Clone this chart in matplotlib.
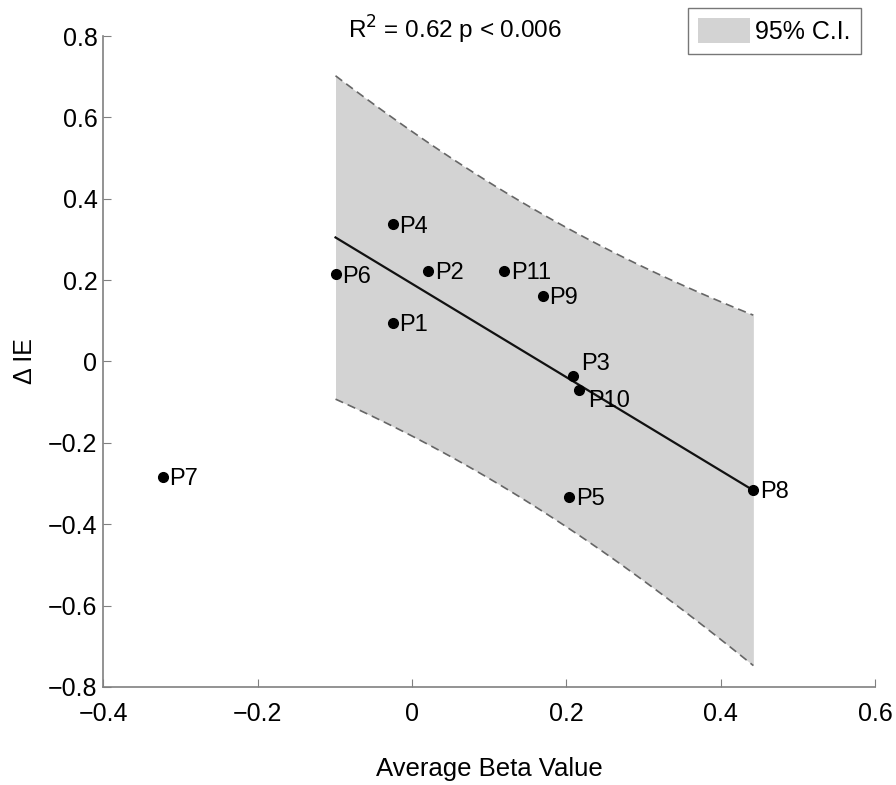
import numpy as np
import matplotlib
matplotlib.use('Agg')
import matplotlib.pyplot as plt
from matplotlib.patches import Patch

plt.rcParams['font.family'] = ['Liberation Sans', 'DejaVu Sans']

# data
labels = ['P1', 'P2', 'P3', 'P4', 'P5', 'P6', 'P7', 'P8', 'P9', 'P10', 'P11']
beta = [-0.025, 0.021, 0.208, -0.025, 0.203, -0.099, -0.323, 0.442, 0.169, 0.216, 0.119]
dIE = [0.094, 0.223, -0.035, 0.337, -0.333, 0.214, -0.283, -0.315, 0.161, -0.069, 0.222]
outliers = ['P7']  # left out of the fit
t_crit = 2.306  # t(0.975, df=8)

xticks = [-0.4, -0.2, 0, 0.2, 0.4, 0.6]
xticklabels = ['\u22120.4', '\u22120.2', '0', '0.2', '0.4', '0.6']
yticks = [-0.8, -0.6, -0.4, -0.2, 0, 0.2, 0.4, 0.6, 0.8]
yticklabels = ['\u22120.8', '\u22120.6', '\u22120.4', '\u22120.2', '0', '0.2', '0.4', '0.6', '0.8']

# label offsets in points (default is right of the dot)
label_off = {'P3': (6, 8.5), 'P10': (7, -8)}

# ---- regression + 95% prediction band ----
x = np.array([b for b, l in zip(beta, labels) if l not in outliers])
y = np.array([d for d, l in zip(dIE, labels) if l not in outliers])
m, q = np.polyfit(x, y, 1)
n = len(x)
s = np.sqrt(np.sum((y - (m * x + q)) ** 2) / (n - 2))
sxx = np.sum((x - x.mean()) ** 2)
xf = np.linspace(x.min(), x.max(), 100)
yf = m * xf + q
half = t_crit * s * np.sqrt(1 + 1.0 / n + (xf - x.mean()) ** 2 / sxx)

fig = plt.figure(figsize=(8.96, 7.85), dpi=100)
ax = fig.add_axes([0.115, 0.125, 0.862, 0.829])

ax.fill_between(xf, yf - half, yf + half, color='#d3d3d3', lw=0, zorder=1)
ax.plot(xf, yf + half, '--', color='#666666', lw=1.2, dashes=(5, 3), zorder=2)
ax.plot(xf, yf - half, '--', color='#666666', lw=1.2, dashes=(5, 3), zorder=2)
ax.plot(xf, yf, '-', color='#111111', lw=1.6, zorder=3)

ax.plot(beta, dIE, 'o', color='black', ms=7, zorder=4)
for l, b, d in zip(labels, beta, dIE):
    ax.annotate(l, (b, d), xytext=label_off.get(l, (5, -1.5)), textcoords='offset points',
                ha='left', va='center', fontsize=17, zorder=5)

ax.set_xlim(-0.4, 0.6)
ax.set_ylim(-0.8, 0.8)
ax.set_xticks(xticks); ax.set_xticklabels(xticklabels)
ax.set_yticks(yticks); ax.set_yticklabels(yticklabels)
ax.tick_params(direction='in', length=6, color='#808080', labelsize=18)
ax.tick_params(axis='x', pad=11)
ax.tick_params(axis='y', pad=4)
for sp in ['top', 'right']:
    ax.spines[sp].set_visible(False)
for sp in ['left', 'bottom']:
    ax.spines[sp].set_color('#808080')
    ax.spines[sp].set_linewidth(1.2)

ax.set_xlabel('Average Beta Value', fontsize=18.5, labelpad=22)
ax.set_ylabel('\u0394 IE', fontsize=18, labelpad=8)

ax.text(0.317, 1.01, 'R$^2$ = 0.62 p < 0.006', transform=ax.transAxes,
        ha='left', va='center', fontsize=17.5)

leg = ax.legend(handles=[Patch(facecolor='#d3d3d3', edgecolor='none', label='95% C.I.')],
                loc='upper right', bbox_to_anchor=(0.981, 1.043), borderaxespad=0,
                fontsize=18, handlelength=2.1, handleheight=1.15, handletextpad=0.2,
                borderpad=0.4, fancybox=False, framealpha=1)
leg.get_frame().set_edgecolor('#777777')
leg.get_frame().set_linewidth(1.0)

plt.savefig('out.png', dpi=100)
